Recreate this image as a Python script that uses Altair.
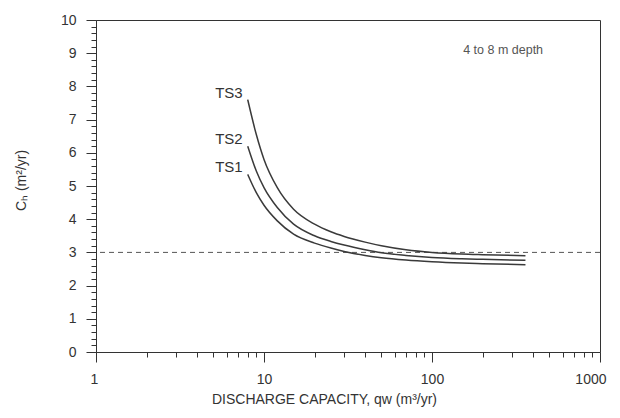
import altair as alt
import pandas as pd

# ---- data ----
q_vals = [8, 9, 10, 12, 15, 20, 25, 30, 40, 50, 70, 100, 150, 200, 360]
ts1 = [5.35, 4.80, 4.42, 3.95, 3.55, 3.28, 3.13, 3.03, 2.91, 2.84, 2.77, 2.72, 2.68, 2.66, 2.63]
ts2 = [6.20, 5.45, 4.95, 4.35, 3.85, 3.50, 3.33, 3.22, 3.08, 2.99, 2.91, 2.85, 2.81, 2.79, 2.76]
ts3 = [7.60, 6.55, 5.80, 4.95, 4.30, 3.85, 3.62, 3.48, 3.31, 3.20, 3.08, 3.00, 2.95, 2.93, 2.90]
series_names = ["TS1", "TS2", "TS3"]
reference_ch = [3.0]
x_major = [1, 10, 100, 1000]
x_minor = [2, 3, 4, 5, 6, 7, 8, 9, 20, 30, 40, 50, 60, 70, 80, 90,
           200, 300, 400, 500, 600, 700, 800, 900]
y_major = [0, 1, 2, 3, 4, 5, 6, 7, 8, 9, 10]
y_minor = [round(i * 0.2, 1) for i in range(51) if i % 5 != 0]
note_text = ["4 to 8 m depth"]
note_q = [265]
note_c = [9.1]

rows = []
for name, vals in zip(series_names, [ts1, ts2, ts3]):
    for qv, cv in zip(q_vals, vals):
        rows.append({"series": name, "q": qv, "C": cv})
df = pd.DataFrame(rows)
starts = df.groupby("series", as_index=False).first()

FONT = "Liberation Sans"
INK = "#333333"

xscale = alt.Scale(type="log", domain=[1, 1000], nice=False)
yscale = alt.Scale(domain=[0, 10], nice=False, zero=False)

major_x = alt.Axis(values=x_major, format="d", tickSize=10, labelPadding=10,
                   grid=False, title="DISCHARGE CAPACITY, qw (m³/yr)",
                   titlePadding=6, labelFlush=True, labelFlushOffset=6,
                   titleX=228, titleAlign="center")
major_y = alt.Axis(values=y_major, tickSize=10, labelPadding=10, grid=False,
                   title="Cₕ (m²/yr)", titlePadding=32, titleY=160,
                   titleAlign="center")
minor_x = alt.Axis(values=x_minor, tickSize=5, labels=False, domain=False,
                   grid=False, title=None, orient="bottom")
minor_y = alt.Axis(values=y_minor, tickSize=5, labels=False, domain=False,
                   grid=False, title=None, orient="left")

lines = alt.Chart(df).mark_line(
    interpolate="monotone", color="#3a3a3a", strokeWidth=1.5
).encode(
    x=alt.X("q:Q", scale=xscale, axis=major_x),
    y=alt.Y("C:Q", scale=yscale, axis=major_y),
    detail="series:N",
)

minor = alt.Chart(df).mark_point(opacity=0).encode(
    x=alt.X("q:Q", scale=xscale, axis=minor_x),
    y=alt.Y("C:Q", scale=yscale, axis=minor_y),
)

rule = alt.Chart(pd.DataFrame({"C": reference_ch})).mark_rule(
    strokeDash=[5, 4], color="#555555", strokeWidth=1
).encode(y=alt.Y("C:Q", scale=yscale, axis=None))

labels = alt.Chart(starts).mark_text(
    align="right", baseline="middle", dx=-5, dy=-7,
    font=FONT, fontSize=15, color=INK
).encode(
    x=alt.X("q:Q", scale=xscale, axis=None),
    y=alt.Y("C:Q", scale=yscale, axis=None),
    text="series:N",
)

note = alt.Chart(pd.DataFrame({"q": note_q, "C": note_c, "t": note_text})).mark_text(
    align="center", baseline="middle", font=FONT, fontSize=12.5, color="#555555"
).encode(
    x=alt.X("q:Q", scale=xscale, axis=None),
    y=alt.Y("C:Q", scale=yscale, axis=None),
    text="t:N",
)

chart = alt.layer(rule, lines, minor, labels, note).resolve_axis(
    x="independent", y="independent"
).properties(
    width=504, height=332,
    autosize=alt.AutoSizeParams(type="none"),
    padding={"left": 88, "top": 12, "right": 8, "bottom": 58},
    background="white",
).configure_view(
    stroke=INK, strokeWidth=1
).configure_axis(
    labelFont=FONT, titleFont=FONT, labelFontSize=14, titleFontSize=14,
    labelColor=INK, titleColor=INK, titleFontWeight="normal",
    domainColor=INK, tickColor=INK, domainWidth=1, tickWidth=1,
)

chart.save("out.html", embed_options={"renderer": "svg", "actions": False})
